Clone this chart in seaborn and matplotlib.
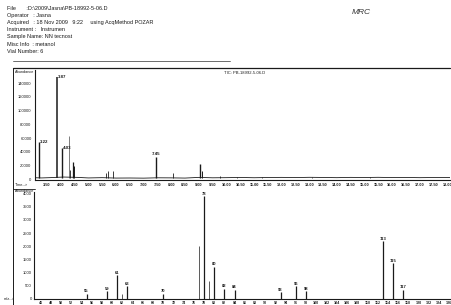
import matplotlib
matplotlib.use("Agg")
import matplotlib.pyplot as plt
import seaborn as sns
import numpy as np
import pandas as pd

# ---------------- data ----------------
header_lines = ["File       :D:\\2009\\Jasna\\PB-18992-5-06.D",
                "Operator   : Jasna",
                "Acquired   : 18 Nov 2009   9:22     using AcqMethod POZAR",
                "Instrument :   Instrumen",
                "Sample Name: NN tecnost",
                "Misc Info  : metanol",
                "Vial Number: 6"]

# TIC chromatogram peaks (retention time, abundance)
tic_rt = [3.22, 3.87, 4.03, 4.30, 4.33, 4.43, 4.48, 5.64, 5.71, 5.89, 7.45, 8.07,
          9.04, 9.12, 9.77, 10.40, 11.30, 13.10, 15.20]
tic_h = [55000, 149000, 46000, 63000, 14000, 25000, 19000, 10000, 12000, 12000, 33000, 9000,
         22000, 13000, 5000, 4000, 3500, 3500, 3000]
tic_w = [1.0, 1.1, 1.0, 0.4, 0.6, 0.9, 0.7, 0.6, 0.6, 0.6, 1.0, 0.6,
         1.0, 0.7, 0.6, 0.5, 0.5, 0.5, 0.5]
tic_labels = {3.22: "3.22", 3.87: "3.87", 4.03: "4.03", 7.45: "7.45"}

base_time = [3.07, 3.3, 3.6, 4.1, 4.6, 5.0, 5.5, 6.0, 6.5, 7.0, 7.5, 8.0, 8.5, 9.0, 9.5,
             10.0, 10.5, 11.0, 11.5, 12.0, 12.5, 13.0, 13.5, 14.0, 14.5, 15.0, 15.5, 16.0,
             16.5, 17.0, 17.5, 18.1]
base_val = [2500, 2200, 2600, 3500, 3000, 2200, 2600, 2000, 2100, 1900, 2400, 2300, 2000,
            3000, 2400, 2600, 2900, 2500, 2800, 3000, 2700, 3100, 2900, 2600, 3000, 2800,
            3100, 2700, 2900, 2600, 2800, 2700]

tic_yticks = [0, 20000, 40000, 60000, 80000, 100000, 120000, 140000]
tic_xticks = [3.5 + 0.5 * i for i in range(30)]

# Mass spectrum
ms_mz = [55, 59, 61, 62, 63, 70, 77, 78, 79, 80, 82, 84, 93, 96, 98, 113, 115, 117]
ms_ab = [190, 270, 880, 190, 460, 190, 1990, 3900, 650, 1220, 380, 340, 230, 460, 270, 2180, 1340, 340]
ms_labeled = [55, 59, 61, 63, 70, 78, 80, 82, 84, 93, 96, 98, 113, 115, 117]
ms_yticks = [0, 500, 1000, 1500, 2000, 2500, 3000, 3500, 4000]
ms_xticks = list(range(46, 127, 2))

# ---------------- figure ----------------
sns.set_theme(style="white")
plt.rcParams['font.family'] = ['Liberation Sans', 'DejaVu Sans']
W, H = 452, 305
fig = plt.figure(figsize=(W / 100, H / 100), dpi=100)
fig.patch.set_facecolor("white")
ink = "#1a1a1a"

def fx(x):
    return x / W

def fy(y):
    return 1 - y / H

# header
for i, line in enumerate(header_lines):
    yy = 8 + i * 7.2
    fig.text(fx(7), fy(yy), line, fontsize=4.0, color=ink, va="center", ha="left")
fig.text(fx(352), fy(13), "MRC", fontsize=6, style="italic", color="#333", va="center", ha="left")
fig.add_artist(plt.Line2D([fx(13), fx(230)], [fy(61), fy(61)], color="#555", lw=0.6))

# frames
fig.add_artist(plt.Line2D([fx(13), fx(450)], [fy(68), fy(68)], color=ink, lw=0.9))
fig.add_artist(plt.Line2D([fx(13), fx(13)], [fy(68), fy(305)], color=ink, lw=0.7))
fig.add_artist(plt.Line2D([fx(13), fx(35)], [fy(189), fy(189)], color=ink, lw=0.6))

# ---------------- TIC axes ----------------
ax1 = fig.add_axes([fx(35), fy(180), (450 - 35) / W, 110 / H])
ax1.set_facecolor("white")
sns.lineplot(x=base_time, y=base_val, ax=ax1, color=ink, lw=0.6)
for rt, h, w in zip(tic_rt, tic_h, tic_w):
    ax1.vlines(rt, 1500, h, color=ink, lw=w)
    if rt in tic_labels:
        if rt == 7.45:
            ax1.text(rt, h + 1500, tic_labels[rt], fontsize=3.2, color=ink, ha="center",
                     va="bottom", fontweight="bold")
        else:
            ax1.text(rt + 0.03, h, tic_labels[rt], fontsize=3.2, color=ink, ha="left",
                     va="center", fontweight="bold")
ax1.set_xlim(3.065, 18.1)
ax1.set_ylim(-800, 159000)
ax1.set_yticks(tic_yticks)
ax1.set_yticklabels([str(v) for v in tic_yticks], fontsize=3.0, color=ink)
ax1.set_xticks(tic_xticks)
ax1.set_xticklabels([f"{v:.2f}" for v in tic_xticks], fontsize=2.8, color=ink, fontweight="bold")
ax1.tick_params(axis="both", length=1.5, width=0.5, pad=1, colors=ink)
for s in ["top", "right"]:
    ax1.spines[s].set_visible(False)
for s in ["left", "bottom"]:
    ax1.spines[s].set_color(ink)
    ax1.spines[s].set_linewidth(0.8)
ax1.set_xlabel("")
ax1.set_ylabel("")
fig.text(fx(15), fy(72), "Abundance", fontsize=2.8, color=ink, va="center", ha="left")
fig.text(fx(224), fy(73), "TIC: PB-18992-5-06.D", fontsize=3.0, color=ink, va="center", ha="left")
fig.text(fx(15), fy(185), "Time-->", fontsize=2.8, color=ink, va="center", ha="left")

# ---------------- Mass spectrum axes ----------------
ax2 = fig.add_axes([fx(34), fy(298.5), (450 - 34) / W, 106.5 / H])
ax2.set_facecolor("white")
df = pd.DataFrame({"mz": ms_mz, "ab": ms_ab})
for mz, ab in zip(df["mz"], df["ab"]):
    lw = 0.9 if mz in ms_labeled else 0.5
    ax2.vlines(mz, 0, ab, color=ink, lw=lw)
    if mz in ms_labeled:
        ax2.text(mz, ab + 30, str(mz), fontsize=3.0, color=ink, ha="center", va="bottom",
                 fontweight="bold")
ax2.set_xlim(44.7, 126.2)
ax2.set_ylim(0, 4070)
ax2.set_yticks(ms_yticks)
ax2.set_yticklabels([str(v) for v in ms_yticks], fontsize=3.0, color=ink)
ax2.set_xticks(ms_xticks)
ax2.set_xticklabels([str(v) for v in ms_xticks], fontsize=2.6, color=ink, fontweight="bold")
ax2.tick_params(axis="both", length=1.2, width=0.5, pad=0.5, colors=ink)
for s in ["top", "right"]:
    ax2.spines[s].set_visible(False)
for s in ["left", "bottom"]:
    ax2.spines[s].set_color(ink)
    ax2.spines[s].set_linewidth(0.8)
fig.text(fx(15), fy(191), "Abundance", fontsize=2.8, color=ink, va="center", ha="left")
fig.text(fx(4), fy(299), "m/z-->", fontsize=2.8, color=ink, va="center", ha="left")

fig.savefig("out.png", dpi=100, facecolor="white")
